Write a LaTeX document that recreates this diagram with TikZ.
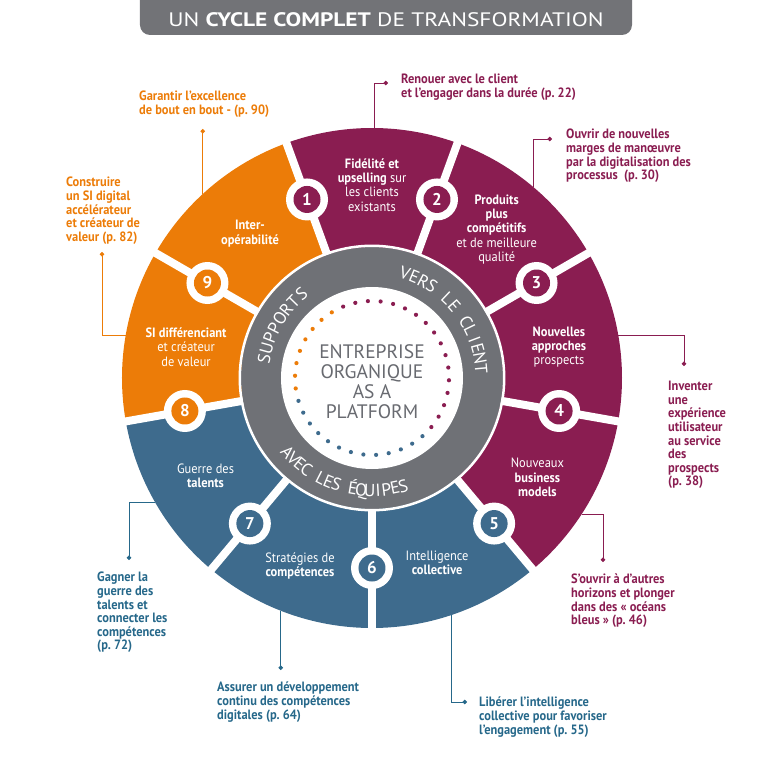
\documentclass[tikz,border=0pt]{standalone}
\usepackage{fontspec}
\setmainfont{PT Sans}[FakeStretch=0.92]
\newfontfamily\corefont{PT Sans}
\newfontfamily\titlefont{PT Sans}[FakeStretch=1.2]
\usetikzlibrary{arrows.meta,positioning,calc}
\definecolor{plum}{RGB}{138,29,81}
\definecolor{amber}{RGB}{236,124,8}
\definecolor{steel}{RGB}{62,107,141}
\definecolor{steeltext}{RGB}{38,104,138}
\definecolor{ringgray}{RGB}{111,113,118}
\definecolor{titlegray}{RGB}{114,115,119}
\definecolor{coregray}{RGB}{104,106,112}
\newcommand{\callfont}{\fontsize{13.5}{13.6}\selectfont\bfseries}
\newcommand{\segfont}{\fontsize{13.5}{14.2}\selectfont}

\begin{document}
\begin{tikzpicture}[x=1pt,y=1pt,
  segtext/.style={text=white,align=center,font=\segfont,inner sep=0pt},
  numring/.style={circle,fill=white,minimum size=42pt,inner sep=0pt},
  numdisc/.style={circle,fill=#1,minimum size=27pt,inner sep=0pt,text=white,font=\corefont\fontsize{17}{17}\selectfont\bfseries},
  callout/.style={text=#1,align=left,anchor=north west,inner sep=0pt,font=\callfont},
  link/.style={draw=#1,line width=0.8pt,-{Circle[length=4.5pt]}},
  ringletter/.style={text=white,font=\corefont\fontsize{17.5}{17.5}\selectfont,inner sep=0pt,anchor=base}]

\useasboundingbox (-372,-391) rectangle (410,378);

% title
\fill[titlegray,rounded corners=10pt] (-232,395) rectangle (260,343);
\node[text=white,font=\titlefont\fontsize{19.5}{19.5}\selectfont,anchor=base] (title) at (14,351) {UN \textbf{CYCLE COMPLET} DE TRANSFORMATION};

% segments
\foreach \c [count=\k] in {plum,plum,plum,plum,steel,steel,steel,amber,amber}{
  \pgfmathsetmacro\a{70-40*(\k-1)}
  \pgfmathsetmacro\b{\a+40}
  \fill[\c] (\a:250) arc[start angle=\a,end angle=\b,radius=250] -- (\b:120) arc[start angle=\b,end angle=\a,radius=120] -- cycle;
}
\foreach \a in {110,70,...,-210}
  \draw[white,line width=8pt] (\a:115) -- (\a:256);

% ring
\fill[ringgray] (0,0) circle[radius=131];
\draw[white,line width=2.5pt] (0,0) circle[radius=132.2];
\fill[white] (0,0) circle[radius=91];
\foreach \i in {0,...,16} \fill[plum] ({112-\i*360/38}:77) circle[radius=2.1];
\foreach \i in {17,...,29} \fill[steel] ({112-\i*360/38}:77) circle[radius=2.1];
\foreach \i in {30,...,37} \fill[amber] ({112-\i*360/38}:77) circle[radius=2.1];

\node[align=center,text=coregray,font=\corefont\fontsize{19.5}{20}\selectfont] (core) at (0,-4) {ENTREPRISE\\ORGANIQUE\\AS A\\PLATFORM};

\foreach \l [count=\i] in {S,U,P,P,O,R,T,S}{
  \pgfmathsetmacro\a{170-(\i-1)*5.7}
  \node[ringletter,rotate=\a-90] at (\a:103.5) {\l};
}
\foreach \l [count=\i] in {V,E,R,S,{},L,E,{},C,L,I,E,N,T}{
  \pgfmathsetmacro\a{72.5-(\i-1)*5.19}
  \node[ringletter,rotate=\a-90] at (\a:103.5) {\l};
}
\foreach \l [count=\i] in {A,V,E,C,{},L,E,S,{},É,Q,U,I,P,E,S}{
  \pgfmathsetmacro\a{-138.6+(\i-1)*4.31}
  \node[ringletter,rotate=\a+90] at (\a:118.5) {\l};
}

% numbers
\foreach \c [count=\k] in {plum,plum,plum,plum,steel,steel,steel,amber,amber}{
  \pgfmathsetmacro\a{110-40*(\k-1)}
  \node[numring] (r\k) at (\a:190) {};
  \node[numdisc=\c] (n\k) at (\a:190) {\k};
}

% segment texts
\node[segtext] (s1) at (90:193) {\textbf{Fidélité et}\\\textbf{upselling} sur\\les clients\\existants};
\node[segtext] (s2) at (50:194) {\textbf{Produits}\\\textbf{plus}\\\textbf{compétitifs}\\et de meilleure\\qualité};
\node[segtext] (s3) at (9.4:189.5) {\textbf{Nouvelles}\\\textbf{approches}\\prospects};
\node[segtext] (s4) at (-31:193) {Nouveaux\\\textbf{business}\\\textbf{models}};
\node[segtext] (s5) at (-70.6:196) {Intelligence\\\textbf{collective}};
\node[segtext] (s6) at (-111:201) {Stratégies de\\\textbf{compétences}};
\node[segtext] (s7) at (-149.6:193) {Guerre des\\\textbf{talents}};
\node[segtext] (s8) at (170.6:188.5) {\textbf{SI différenciant}\\et créateur\\de valeur};
\node[segtext] (s9) at (130.2:189) {\textbf{Inter-}\\\textbf{opérabilité}};

% callouts
\coordinate (a1) at (89.5:250);   \coordinate (d1) at (16,295);
\coordinate (a2) at (49.8:250);   \coordinate (d2) at (180,239);
\coordinate (a3) at (9.8:250);    \coordinate (d3) at (312,12);
\coordinate (a4) at (-33:250);    \coordinate (d4) at (231,-184);
\coordinate (a5) at (-71.4:250);  \coordinate (d5) at (95,-324);
\coordinate (a6) at (-111.4:250); \coordinate (d6) at (-93,-292);
\coordinate (a7) at (-150.2:250); \coordinate (d7) at (-243,-182);
\coordinate (a8) at (170.2:250);  \coordinate (d8) at (-270,126);
\coordinate (a9) at (132.6:250);  \coordinate (d9) at (-171,249);

\draw[link=plum] (a1) |- (d1);
\draw[link=plum] (a2) |- (d2);
\draw[link=plum] (a3) -| (d3);
\draw[link=plum] (a4) -| (d4);
\draw[link=steeltext] (a5) |- (d5);
\draw[link=steeltext] (a6) -- (a6 |- d6);
\draw[link=steeltext] (a7) -| (d7);
\draw[link=amber] (a8) -| (d8);
\draw[link=amber] (a9) -- (a9 |- d9);

\node[callout=plum] (c1) at (29,304) {Renouer avec le client\\et l’engager dans la durée (p.~22)};
\node[callout=plum] (c2) at (194,249) {Ouvrir de nouvelles\\marges de manœuvre\\par la digitalisation des\\processus~ (p.~30)};
\node[callout=plum] (c3) at (296,-3) {Inventer\\une\\expérience\\utilisateur\\au service\\des\\prospects\\(p.~38)};
\node[callout=plum] (c4) at (199,-196) {S’ouvrir à d’autres\\horizons et plonger\\dans des «~océans\\bleus~» (p.~46)};
\node[callout=steeltext] (c5) at (107,-319) {Libérer l’intelligence\\collective pour favoriser\\l’engagement (p.~55)};
\node[callout=steeltext] (c6) at (-155,-304) {Assurer un développement\\continu des compétences\\digitales (p.~64)};
\node[callout=steeltext] (c7) at (-275,-194) {Gagner la\\guerre des\\talents et\\connecter les\\compétences\\(p.~72)};
\node[callout=amber] (c8) at (-306,201) {Construire\\un SI digital\\accélérateur\\et créateur de\\valeur (p.~82)};
\node[callout=amber] (c9) at (-233,287) {Garantir l’excellence\\de bout en bout - (p.~90)};
\end{tikzpicture}
\end{document}
